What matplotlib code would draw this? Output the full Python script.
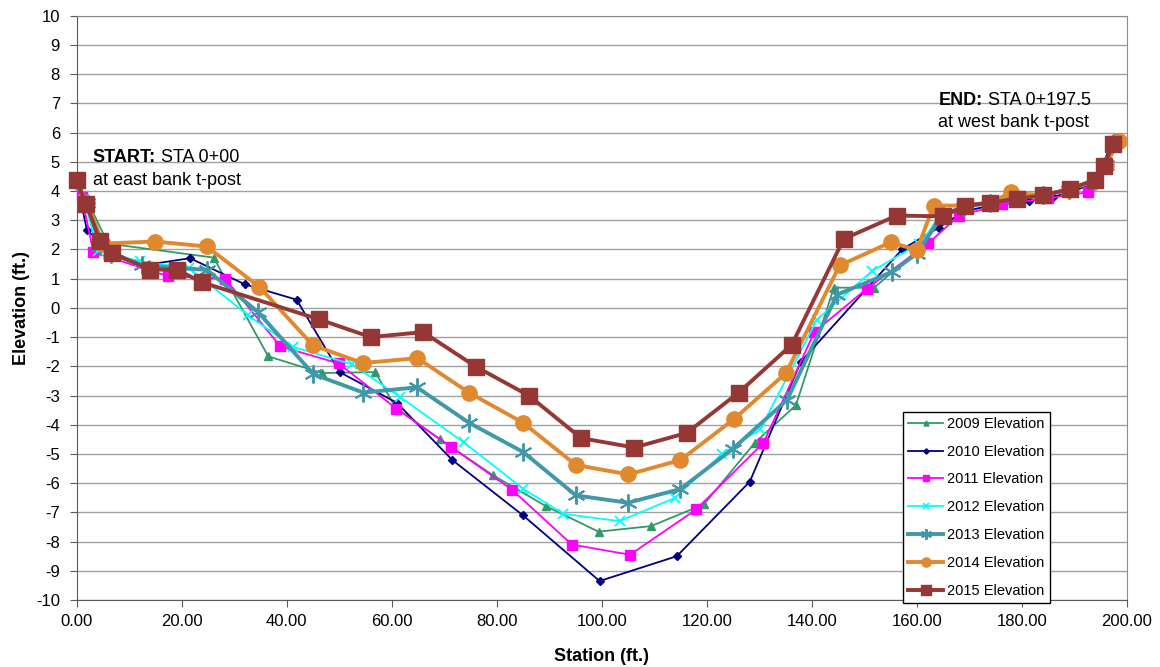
import matplotlib
matplotlib.use("Agg")
import matplotlib.pyplot as plt

plt.rcParams['font.family'] = ['Liberation Sans', 'DejaVu Sans']
plt.rcParams['axes.unicode_minus'] = False

# ---- data ----
x2009 = [0, 2.5, 6, 26.1, 36.5, 46.7, 56.9, 60.7, 69.2, 79.3, 89.4, 99.4, 109.4, 119.5, 129.2, 137.0, 144.2, 151.9, 160.0, 164.5, 169, 174, 179, 184, 189, 194, 196, 197.5]
y2009 = [4.3, 3.5, 2.2, 1.72, -1.66, -2.23, -2.2, -3.4, -4.5, -5.73, -6.79, -7.66, -7.47, -6.72, -4.61, -3.33, 0.69, 0.69, 1.95, 3.2, 3.45, 3.6, 3.75, 3.85, 4.05, 4.35, 4.9, 5.6]

x2010 = [0, 2, 6.5, 12.5, 21.6, 32.1, 41.9, 50.1, 61.0, 71.5, 85.0, 99.6, 114.3, 128.2, 137.9, 157.2, 164.2, 169, 174, 181.3, 186, 190, 194, 197.5]
y2010 = [4.3, 2.65, 1.95, 1.45, 1.7, 0.8, 0.28, -2.2, -3.25, -5.2, -7.1, -9.35, -8.5, -5.95, -1.85, 2.0, 2.75, 3.3, 3.5, 3.65, 3.8, 4.0, 4.3, 5.8]

x2011 = [0, 1, 3.2, 17.5, 28.3, 38.8, 49.9, 60.9, 71.3, 82.9, 94.3, 105.4, 118.0, 130.8, 140.5, 150.5, 162.2, 168.0, 176.2, 185, 192.7, 195.5, 197.5]
y2011 = [4.35, 3.8, 1.9, 1.08, 1.0, -1.32, -1.9, -3.45, -4.76, -6.22, -8.1, -8.45, -6.9, -4.62, -0.83, 0.66, 2.21, 3.15, 3.55, 3.75, 3.96, 4.8, 5.7]

x2012 = [0, 1.5, 4, 12.1, 21.5, 32.7, 41.3, 52.4, 61.6, 73.7, 85.1, 92.7, 103.4, 114.0, 122.9, 130.2, 141.0, 151.5, 160.5, 165, 169, 174, 179, 184, 189, 194, 196, 197.5]
y2012 = [4.3, 3.7, 1.95, 1.6, 1.35, -0.26, -1.34, -1.93, -3.05, -4.6, -6.2, -7.05, -7.3, -6.5, -5.0, -4.15, -0.4, 1.26, 2.2, 3.2, 3.45, 3.6, 3.75, 3.85, 4.05, 4.3, 4.9, 5.65]

x2013 = [0, 2, 4.5, 6.5, 12.5, 24.8, 34.6, 45.1, 54.6, 64.8, 74.8, 85.0, 95.1, 105.0, 115.0, 125.0, 135.3, 144.8, 155.3, 160.0, 165, 169, 174, 179, 184, 189, 194, 196, 197.5]
y2013 = [4.3, 3.6, 2.1, 1.85, 1.45, 1.3, -0.15, -2.27, -2.9, -2.72, -3.94, -4.93, -6.42, -6.67, -6.2, -4.82, -3.15, 0.45, 1.23, 1.86, 3.2, 3.45, 3.6, 3.75, 3.85, 4.05, 4.35, 4.9, 5.65]

x2014 = [0, 2, 5, 15.0, 24.8, 34.8, 45.0, 54.5, 64.9, 74.8, 85.0, 95.1, 105.1, 115.0, 125.1, 135.1, 145.3, 155.1, 160.0, 163.2, 169, 174, 178, 184, 189, 194, 196, 198.5]
y2014 = [4.35, 3.6, 2.2, 2.27, 2.1, 0.72, -1.28, -1.89, -1.72, -2.91, -3.93, -5.38, -5.7, -5.21, -3.82, -2.23, 1.45, 2.25, 1.97, 3.5, 3.5, 3.6, 3.95, 3.85, 4.05, 4.35, 4.9, 5.7]

x2015 = [0, 1.8, 4.5, 6.7, 14.0, 19.1, 23.8, 46.1, 56.0, 66.0, 76.1, 86.1, 96.1, 106.2, 116.2, 126.1, 136.2, 146.1, 156.2, 165.0, 169.2, 174.0, 179.1, 184.1, 189.2, 194.0, 195.7, 197.4]
y2015 = [4.36, 3.56, 2.3, 1.88, 1.31, 1.31, 0.88, -0.39, -1.0, -0.83, -2.02, -3.0, -4.46, -4.78, -4.28, -2.9, -1.26, 2.36, 3.16, 3.13, 3.5, 3.6, 3.74, 3.85, 4.07, 4.39, 4.87, 5.62]

labels = ['2009 Elevation', '2010 Elevation', '2011 Elevation', '2012 Elevation',
          '2013 Elevation', '2014 Elevation', '2015 Elevation']
xticks = [0, 20, 40, 60, 80, 100, 120, 140, 160, 180, 200]
yticks = list(range(-10, 11))

# ---- figure ----
fig = plt.figure(figsize=(11.6, 6.67), dpi=100)
ax = fig.add_axes([0.066, 0.1004, 0.9054, 0.8761])

kw = dict(clip_on=False, zorder=3)
ax.plot(x2009, y2009, color='#339966', lw=1.3, marker='^', ms=6, label=labels[0], **kw)
ax.plot(x2010, y2010, color='#000080', lw=1.3, marker='D', ms=4.5, label=labels[1], **kw)
ax.plot(x2011, y2011, color='#FF00FF', lw=1.3, marker='s', ms=7, label=labels[2], **kw)
ax.plot(x2012, y2012, color='#00FFFF', lw=1.3, marker='x', ms=7, mew=1.3, label=labels[3], **kw)
ax.plot(x2013, y2013, color='#4198A8', lw=2.8, marker=(6, 2, 0), ms=13, mew=1.4, label=labels[4], **kw)
ax.plot(x2014, y2014, color='#E0892F', lw=2.8, marker='o', ms=11, label=labels[5], **kw)
ax.plot(x2015, y2015, color='#953735', lw=2.8, marker='s', ms=11, label=labels[6], **kw)

ax.set_xlim(0, 200)
ax.set_ylim(-10, 10)
ax.set_xticks(xticks)
ax.set_xticklabels([f"{v:.2f}" for v in xticks])
ax.set_yticks(yticks)
ax.tick_params(axis='both', labelsize=12, direction='out', length=5, color='#595959')
ax.tick_params(axis='y', pad=7)
ax.tick_params(axis='x', pad=5)
ax.yaxis.grid(True, color='#a0a0a0', lw=1)
ax.set_axisbelow(True)
for s in ['left', 'bottom']:
    ax.spines[s].set_color('#595959')
for s in ['top', 'right']:
    ax.spines[s].set_color('#8c8c8c')

ax.set_xlabel('Station (ft.)', fontsize=13, fontweight='bold', labelpad=14)
ax.set_ylabel('Elevation (ft.)', fontsize=13, fontweight='bold', labelpad=4)

# annotations
fs = 13
t1 = ax.text(3.1, 5.13, 'START:', fontsize=fs, fontweight='bold', va='center', ha='left')
ax.annotate(' STA 0+00', xy=(1, 0), xycoords=t1, va='bottom', ha='left', fontsize=fs)
ax.text(3.1, 4.37, 'at east bank t-post', fontsize=fs, va='center', ha='left')
t2 = ax.text(164.1, 7.11, 'END:', fontsize=fs, fontweight='bold', va='center', ha='left')
ax.annotate(' STA 0+197.5', xy=(1, 0), xycoords=t2, va='bottom', ha='left', fontsize=fs)
ax.text(164.1, 6.33, 'at west bank t-post', fontsize=fs, va='center', ha='left')

leg = ax.legend(loc='lower left', bbox_to_anchor=(903 / 1160, 1 - 603 / 667),
                bbox_transform=fig.transFigure, borderaxespad=0, fontsize=10.5,
                handlelength=2.4, handletextpad=0.3, labelspacing=0.95, fancybox=False,
                framealpha=1, edgecolor='#000000', borderpad=0.35, markerscale=0.6)
leg.get_frame().set_linewidth(1.0)

fig.savefig('out.png', dpi=100)
